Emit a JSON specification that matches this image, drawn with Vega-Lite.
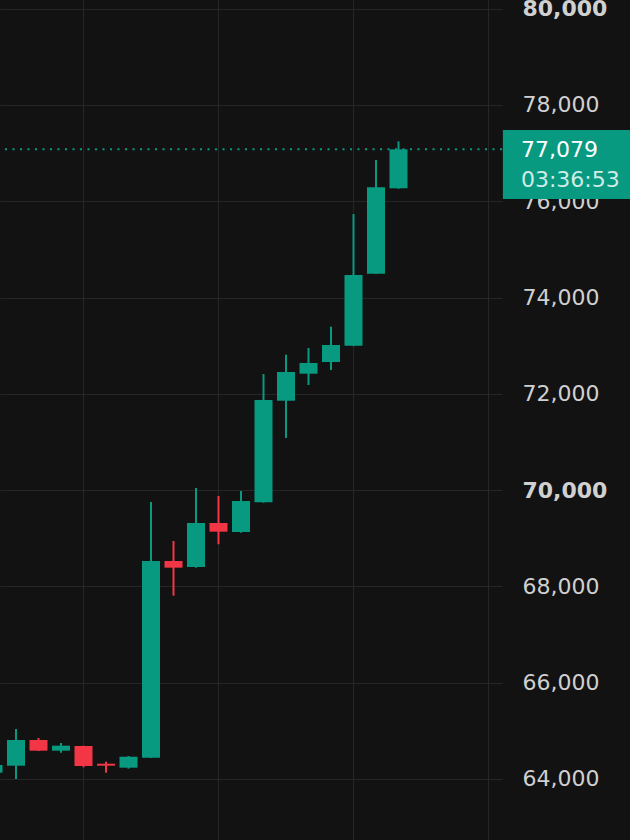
{
  "$schema": "https://vega.github.io/schema/vega-lite/v6.json",
  "width": 502,
  "height": 840,
  "autosize": "none",
  "padding": {"left": 0, "top": 0, "right": 128, "bottom": 0},
  "background": "#121212",
  "config": {
    "view": {"stroke": null},
    "axis": {"gridColor": "#262626", "gridWidth": 1, "domain": false, "ticks": false, "tickSize": 0, "title": null}
  },
  "datasets": {
    "candles": [
      {"i": 0, "o": 64131, "h": 64300, "l": 64120, "c": 64291},
      {"i": 1, "o": 64276, "h": 65038, "l": 64000, "c": 64810},
      {"i": 2, "o": 64810, "h": 64852, "l": 64580, "c": 64588},
      {"i": 3, "o": 64588, "h": 64748, "l": 64546, "c": 64692},
      {"i": 4, "o": 64685, "h": 64690, "l": 64243, "c": 64270},
      {"i": 5, "o": 64318, "h": 64360, "l": 64131, "c": 64276},
      {"i": 6, "o": 64235, "h": 64478, "l": 64214, "c": 64463},
      {"i": 7, "o": 64442, "h": 69753, "l": 64440, "c": 68528},
      {"i": 8, "o": 68528, "h": 68943, "l": 67807, "c": 68389},
      {"i": 9, "o": 68403, "h": 70044, "l": 68389, "c": 69317},
      {"i": 10, "o": 69317, "h": 69878, "l": 68875, "c": 69137},
      {"i": 11, "o": 69130, "h": 69982, "l": 69116, "c": 69774},
      {"i": 12, "o": 69747, "h": 72412, "l": 69740, "c": 71872},
      {"i": 13, "o": 71857, "h": 72813, "l": 71083, "c": 72453},
      {"i": 14, "o": 72418, "h": 72952, "l": 72183, "c": 72640},
      {"i": 15, "o": 72661, "h": 73395, "l": 72495, "c": 73014},
      {"i": 16, "o": 72999, "h": 75735, "l": 72990, "c": 74468},
      {"i": 17, "o": 74495, "h": 76857, "l": 74490, "c": 76290},
      {"i": 18, "o": 76269, "h": 77245, "l": 76260, "c": 77079}
    ],
    "last": [
      {"price": 77079, "timer": "03:36:53"}
    ]
  },
  "encoding": {
    "x": {
      "type": "quantitative",
      "scale": {"domain": [0.289, 22.6], "nice": false, "zero": false, "padding": 0},
      "axis": {"values": [4, 10, 16, 22], "grid": true, "labels": false, "zindex": 0}
    },
    "y": {
      "type": "quantitative",
      "scale": {"domain": [62733, 80180], "nice": false, "zero": false, "padding": 0},
      "axis": {
        "orient": "right",
        "values": [64000, 66000, 68000, 70000, 72000, 74000, 76000, 78000, 80000],
        "format": ",d",
        "grid": true,
        "zindex": 0,
        "labelPadding": 20,
        "labelFont": "DejaVu Sans",
        "labelFontSize": 22,
        "labelColor": "#d0d0d0",
        "labelFontWeight": {"condition": {"test": "datum.value % 10000 === 0", "value": "bold"}, "value": "normal"}
      }
    }
  },
  "layer": [
    {
      "data": {"name": "candles"},
      "mark": {"type": "rule", "strokeWidth": 2},
      "encoding": {
        "x": {"field": "i"},
        "y": {"field": "l"},
        "y2": {"field": "h"},
        "color": {"condition": {"test": "datum.c >= datum.o", "value": "#089981"}, "value": "#f23645"}
      }
    },
    {
      "data": {"name": "candles"},
      "mark": {"type": "bar", "size": 18},
      "encoding": {
        "x": {"field": "i"},
        "y": {"field": "o"},
        "y2": {"field": "c"},
        "color": {"condition": {"test": "datum.c >= datum.o", "value": "#089981"}, "value": "#f23645"}
      }
    },
    {
      "data": {"name": "last"},
      "mark": {"type": "rule", "color": "#089981", "strokeWidth": 2, "strokeDash": [2, 5.5]},
      "encoding": {
        "y": {"field": "price"}
      }
    },
    {
      "data": {"name": "last"},
      "mark": {"type": "rect", "color": "#089981", "clip": false},
      "encoding": {
        "x": {"datum": 22.64},
        "x2": {"datum": 28.6},
        "y": {"datum": 77480},
        "y2": {"datum": 76047}
      }
    },
    {
      "data": {"name": "last"},
      "mark": {"type": "text", "align": "left", "baseline": "alphabetic", "font": "DejaVu Sans", "fontSize": 22, "color": "#ffffff"},
      "encoding": {
        "x": {"datum": 23.44},
        "y": {"datum": 76925},
        "text": {"field": "price", "format": ",d"}
      }
    },
    {
      "data": {"name": "last"},
      "mark": {"type": "text", "align": "left", "baseline": "alphabetic", "font": "DejaVu Sans", "fontSize": 22, "color": "#d0ece6"},
      "encoding": {
        "x": {"datum": 23.44},
        "y": {"datum": 76296},
        "text": {"field": "timer"}
      }
    }
  ]
}
